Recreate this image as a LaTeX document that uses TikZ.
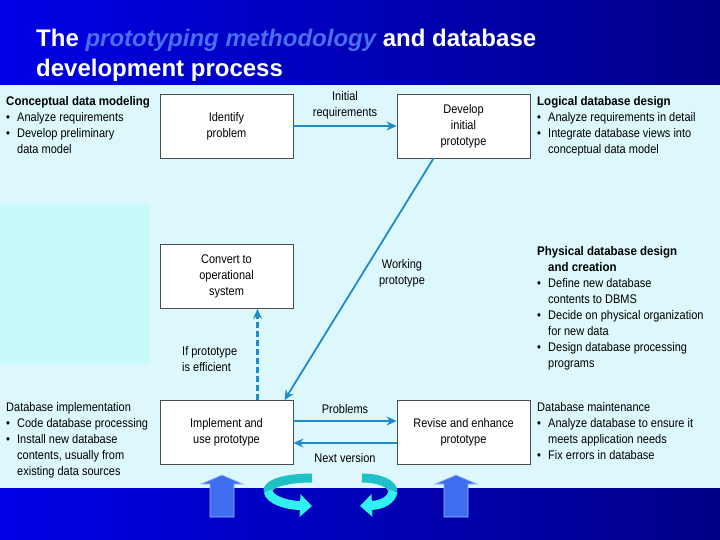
\documentclass[tikz,border=0pt]{standalone}
\usepackage{fontspec}
\setmainfont{Liberation Sans}[FakeStretch=0.88,BoldFeatures={FakeStretch=0.92}]
\newfontfamily\titlefont{Liberation Sans}
\usetikzlibrary{arrows.meta}
\definecolor{slidedark}{HTML}{000088}
\definecolor{slidelight}{HTML}{0000E6}
\definecolor{panel}{HTML}{DCF8FC}
\definecolor{panelcyan}{HTML}{C8FAFC}
\definecolor{flowblue}{HTML}{1E8CCB}
\definecolor{titleital}{HTML}{4A6EF0}
\definecolor{blockblue}{HTML}{3F6FF0}
\definecolor{rimblue}{HTML}{9CB8FF}
\definecolor{turnteal}{HTML}{1EC2C6}
\definecolor{turncyan}{HTML}{30F0F4}
\newcommand{\bul}{\makebox[11pt][l]{\textbullet}}
\newcommand{\ind}{\hspace*{11pt}}

\begin{document}
\begin{tikzpicture}[x=1pt,y=-1pt,
  box/.style={draw=black!70,fill=white,line width=0.8pt,minimum width=133pt,minimum height=64pt,align=center,font=\fontsize{12.5}{16}\selectfont},
  note/.style={anchor=north west,align=left,inner sep=0pt,font=\fontsize{12.5}{16}\selectfont},
  lbl/.style={align=center,inner sep=1pt,font=\fontsize{12.5}{16}\selectfont},
  flow/.style={draw=flowblue,line width=1.8pt,-{Stealth[length=10pt,width=9pt]}}]
\useasboundingbox (0,0) rectangle (720,540);
\shade[left color=slidelight,right color=slidedark] (0,0) rectangle (720,540);
\fill[panel] (0,85) rectangle (720,488);
\fill[panelcyan] (0,204) rectangle (150,364);
\node[anchor=west,inner sep=0pt,text=white,font=\titlefont\bfseries\fontsize{24}{30}\selectfont,align=left] (title) at (36,55)
  {The {\color{titleital}\itshape prototyping methodology} and database\\development process};

\node[box] (identify) at (226.5,126) {Identify\\problem};
\node[box] (develop) at (463.5,126) {Develop\\initial\\prototype};
\node[box] (convert) at (226.5,276.5) {Convert to\\operational\\system};
\node[box] (implement) at (226.5,432.5) {Implement and\\use prototype};
\node[box] (revise) at (463.5,432.5) {Revise and enhance\\prototype};

\draw[flow] (identify) -- (develop);
\node[lbl] (initreq) at (345,105) {Initial\\requirements};
\draw[flow] ([xshift=-30pt]develop.south) -- ([xshift=58pt]implement.north);
\node[lbl] (working) at (402,273) {Working\\prototype};
\draw[flow,line width=2.6pt,dash pattern=on 6pt off 3pt] ([xshift=31pt]implement.north) -- ([xshift=31pt]convert.south);
\node[lbl,align=left,anchor=west] (ifeff) at (181,359) {If prototype\\is efficient};
\draw[flow] ([yshift=11.5pt]implement.east) -- ([yshift=11.5pt]revise.west);
\node[lbl] (problems) at (345,409) {Problems};
\draw[flow] ([yshift=-10.5pt]revise.west) -- ([yshift=-10.5pt]implement.east);
\node[lbl] (nextver) at (345,458) {Next version};

\node[note] (concept) at (6,96) {\textbf{Conceptual data modeling}\\
  \bul Analyze requirements\\
  \bul Develop preliminary\\
  \ind data model};
\node[note] (logical) at (537,96) {\textbf{Logical database design}\\
  \bul Analyze requirements in detail\\
  \bul Integrate database views into\\
  \ind conceptual data model};
\node[note] (physical) at (537,246) {\textbf{Physical database design}\\
  \ind\textbf{and creation}\\
  \bul Define new database\\
  \ind contents to DBMS\\
  \bul Decide on physical organization\\
  \ind for new data\\
  \bul Design database processing\\
  \ind programs};
\node[note] (dbimpl) at (6,402) {Database implementation\\
  \bul Code database processing\\
  \bul Install new database\\
  \ind contents, usually from\\
  \ind existing data sources};
\node[note] (dbmaint) at (537,402) {Database maintenance\\
  \bul Analyze database to ensure it\\
  \ind meets application needs\\
  \bul Fix errors in database};

\filldraw[fill=blockblue,draw=rimblue,line width=0.6pt] (201,484) -- (222,475) -- (243,484) -- (234,484) -- (234,517) -- (210,517) -- (210,484) -- cycle;
\filldraw[fill=blockblue,draw=rimblue,line width=0.6pt] (435,484) -- (456,475) -- (477,484) -- (468,484) -- (468,517) -- (444,517) -- (444,484) -- cycle;
\draw[turnteal,line width=9pt] (312,478) .. controls (285,478) and (266,484) .. (268,492);
\draw[turncyan,line width=9pt,-{Triangle[length=12pt,width=22pt]}] (268,491) .. controls (270,500) and (285,505) .. (312,506);
\draw[turnteal,line width=9pt] (362,478) .. controls (380,478) and (393,484) .. (393,492);
\draw[turncyan,line width=9pt,-{Triangle[length=12pt,width=22pt]}] (393,491) .. controls (392,500) and (382,505) .. (360,506);
\end{tikzpicture}
\end{document}
